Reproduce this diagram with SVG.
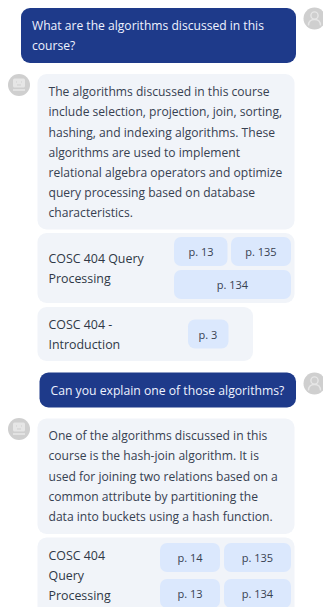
<svg xmlns="http://www.w3.org/2000/svg" width="323" height="607" viewBox="0 0 323 607">
<style>
text{font-family:"Open Sans","Noto Sans","Liberation Sans",sans-serif;font-size:12.1px;fill:#374151}
.u{fill:#eef2ff}
.t{font-weight:500;font-size:12.4px;fill:#2f3846}
.c{text-anchor:middle;font-size:11px;font-weight:500}
.bub{fill:#f1f4f9}
.chip{fill:#dbe8fd}
.user{fill:#1e3a8a}
.av{fill:#cfcfcf}
.ig{fill:none;stroke:#e6e6e6;stroke-width:1.4}
</style>
<defs>
<g id="ua"><circle r="11" class="av"/><circle cy="-3" r="3.6" class="ig"/><path d="M-6 7c0-5 3-6 6-6s6 1 6 6" class="ig"/></g>
<g id="ba"><circle r="11" class="av"/><rect x="-6" y="-6.5" width="12" height="9" rx="1.5" fill="#e6e6e6"/><path d="M-3-3h1M2-3h1M-2 0h4" stroke="#cfcfcf" stroke-width="1"/><path d="M-6 5h12" stroke="#e6e6e6" stroke-width="1.6"/></g>
</defs>
<rect width="323" height="607" fill="#fff"/>
<g id="msg1"><rect x="21" y="8" width="275" height="55" rx="9" class="user"/><text class="u" x="32" y="30">What are the algorithms discussed in this</text><text class="u" x="32" y="50">course?</text></g>
<g id="avatar-user-1"><use href="#ua" x="314.5" y="18.5"/></g>
<g id="avatar-bot-1"><use href="#ba" x="19" y="85"/></g>
<g id="answer1"><rect x="37.5" y="74" width="257" height="155.500" rx="9" class="bub"/>
<text x="48.500" y="96">The algorithms discussed in this course</text>
<text x="48.500" y="116">include selection, projection, join, sorting,</text>
<text x="48.500" y="136.500">hashing, and indexing algorithms. These</text>
<text x="48.500" y="156.500">algorithms are used to implement</text>
<text x="48.500" y="177">relational algebra operators and optimize</text>
<text x="48.500" y="197">query processing based on database</text>
<text x="48.500" y="217">characteristics.</text></g>
<g id="source1"><rect x="37.5" y="233" width="257" height="70" rx="9" class="bub"/>
<text class="t" x="48.500" y="263">COSC 404 Query</text><text class="t" x="48.500" y="283">Processing</text>
<rect x="174" y="237" width="53.500" height="29" rx="7" class="chip"/><text class="c" x="201" y="256">p. 13</text>
<rect x="231" y="237" width="60" height="29" rx="7" class="chip"/><text class="c" x="261" y="256">p. 135</text>
<rect x="174" y="270" width="117" height="29" rx="7" class="chip"/><text class="c" x="232.500" y="289">p. 134</text></g>
<g id="source2"><rect x="37.5" y="307" width="215.500" height="54" rx="9" class="bub"/>
<text class="t" x="48.500" y="328.500">COSC 404 -</text><text class="t" x="48.500" y="349">Introduction</text>
<rect x="188" y="319.500" width="40.500" height="29" rx="7" class="chip"/><text class="c" x="208" y="338.500">p. 3</text></g>
<g id="msg2"><rect x="39.5" y="372.500" width="256.500" height="35" rx="9" class="user"/><text class="u" x="50.500" y="395" style="font-size:12.2px">Can you explain one of those algorithms?</text></g>
<g id="avatar-user-2"><use href="#ua" x="314.5" y="383.500"/></g>
<g id="avatar-bot-2"><use href="#ba" x="19" y="429"/></g>
<g id="answer2"><rect x="37.5" y="418.500" width="257" height="115.500" rx="9" class="bub"/>
<text x="48.500" y="440">One of the algorithms discussed in this</text>
<text x="48.500" y="460">course is the hash-join algorithm. It is</text>
<text x="48.500" y="480.500">used for joining two relations based on a</text>
<text x="48.500" y="500.500">common attribute by partitioning the</text>
<text x="48.500" y="520.500">data into buckets using a hash function.</text></g>
<g id="source3"><rect x="37.5" y="537.500" width="257" height="80" rx="9" class="bub"/>
<text class="t" x="48.500" y="559.500">COSC 404</text><text class="t" x="48.500" y="580">Query</text><text class="t" x="48.500" y="600">Processing</text>
<rect x="160" y="543" width="60" height="29" rx="7" class="chip"/><text class="c" x="190" y="562">p. 14</text>
<rect x="224" y="543" width="67" height="29" rx="7" class="chip"/><text class="c" x="257.500" y="562">p. 135</text>
<rect x="160" y="579" width="60" height="29" rx="7" class="chip"/><text class="c" x="190" y="598">p. 13</text>
<rect x="224" y="579" width="67" height="29" rx="7" class="chip"/><text class="c" x="257.500" y="598">p. 134</text></g>
</svg>
